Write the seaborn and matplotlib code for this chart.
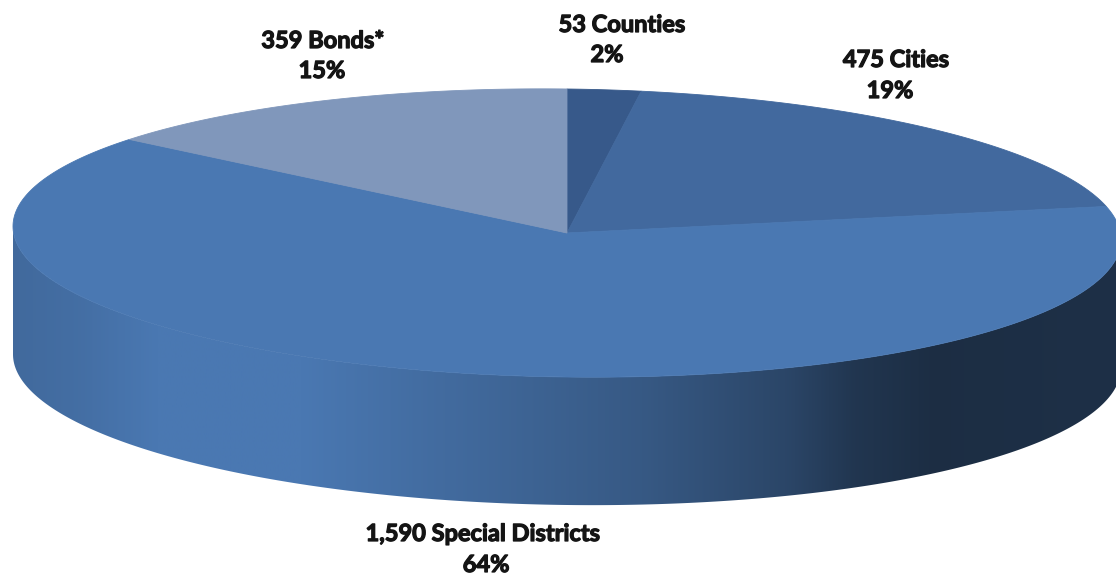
import numpy as np
import matplotlib
matplotlib.use("Agg")
import matplotlib.pyplot as plt
import matplotlib.patheffects as pe
from matplotlib.colors import to_rgb
from matplotlib.patches import Polygon
import seaborn as sns

# Entities by type (clockwise from 12 o'clock)
categories = ["Counties", "Cities", "Special Districts", "Bonds*"]
counts = [53, 475, 1590, 359]
shares = [2, 19, 64, 15]
slice_colors = ["#37598a", "#42699e", "#4a78b2", "#8097bb"]

# label anchor points (centre x, baseline y) for the two lines of each label
name_pos = [(622, 32), (896, 67), (483, 541), (323, 48)]
share_pos = [(607, 62), (890, 98), (486, 572), (322, 78)]

sns.set_theme(style="white")
plt.rcParams["font.family"] = ["Lato", "DejaVu Sans"]

W, H = 1116, 578
fig = plt.figure(figsize=(W / 100, H / 100), dpi=100)
ax = fig.add_axes([0, 0, 1, 1])
ax.set_xlim(0, W)
ax.set_ylim(H, 0)
ax.axis("off")

# ellipse geometry of the tilted disc
cx, cy, rx, ry, depth, shear = 567, 233, 554, 144, 128, 0.012


def rim(theta, drop=0.0):
    s = np.sin(theta)
    return cx + rx * s, cy - ry * np.cos(theta) + shear * rx * s + drop


fracs = np.array(counts, dtype=float) / np.sum(counts)
edges = np.concatenate([[0.0], np.cumsum(fracs)]) * 2 * np.pi

# shading of the cylinder wall, left to right
shade_t = [0.0, 0.06, 0.13, 0.26, 0.38, 0.57, 0.70, 0.76, 0.83, 1.0]
shade_f = [0.88, 0.92, 1.0, 1.0, 0.90, 0.74, 0.58, 0.45, 0.38, 0.40]
xs = np.linspace(cx - rx, cx + rx, 1200)
fac = np.interp((xs - (cx - rx)) / (2 * rx), shade_t, shade_f)

for a, b, col in zip(edges[:-1], edges[1:], slice_colors):
    lo, hi = max(a, np.pi / 2), min(b, 3 * np.pi / 2)
    if hi <= lo:
        continue
    th = np.linspace(lo, hi, 300)
    tx, ty = rim(th)
    bx, by = rim(th[::-1], depth)
    wall = np.column_stack([np.concatenate([tx, bx]), np.concatenate([ty, by])])
    patch = Polygon(wall, closed=True, facecolor="none", edgecolor="none")
    ax.add_patch(patch)
    grad = np.clip(np.outer(fac, to_rgb(col)), 0, 1)[None, :, :]
    im = ax.imshow(grad, extent=[cx - rx, cx + rx, cy + ry + depth + 20, cy - ry - 20],
                   aspect="auto", interpolation="bilinear", zorder=1)
    im.set_clip_path(patch)

# top face slices
for a, b, col in zip(edges[:-1], edges[1:], slice_colors):
    th = np.linspace(a, b, 300)
    px, py = rim(th)
    ax.fill(np.concatenate([[cx], px]), np.concatenate([[cy], py]),
            facecolor=col, edgecolor=col, linewidth=0.6, zorder=2)

# labels
ink = "#141414"
heavy = [pe.withStroke(linewidth=0.9, foreground=ink)]
for name, n, pct, (nx, ny), (sx, sy) in zip(categories, counts, shares, name_pos, share_pos):
    ax.text(nx, ny, f"{n:,} {name}", ha="center", va="baseline",
            fontsize=17, fontweight="bold", color=ink, zorder=3, path_effects=heavy)
    ax.text(sx, sy, f"{pct}%", ha="center", va="baseline",
            fontsize=17, fontweight="bold", color=ink, zorder=3, path_effects=heavy)

fig.savefig("out.png", dpi=100, facecolor="white")
